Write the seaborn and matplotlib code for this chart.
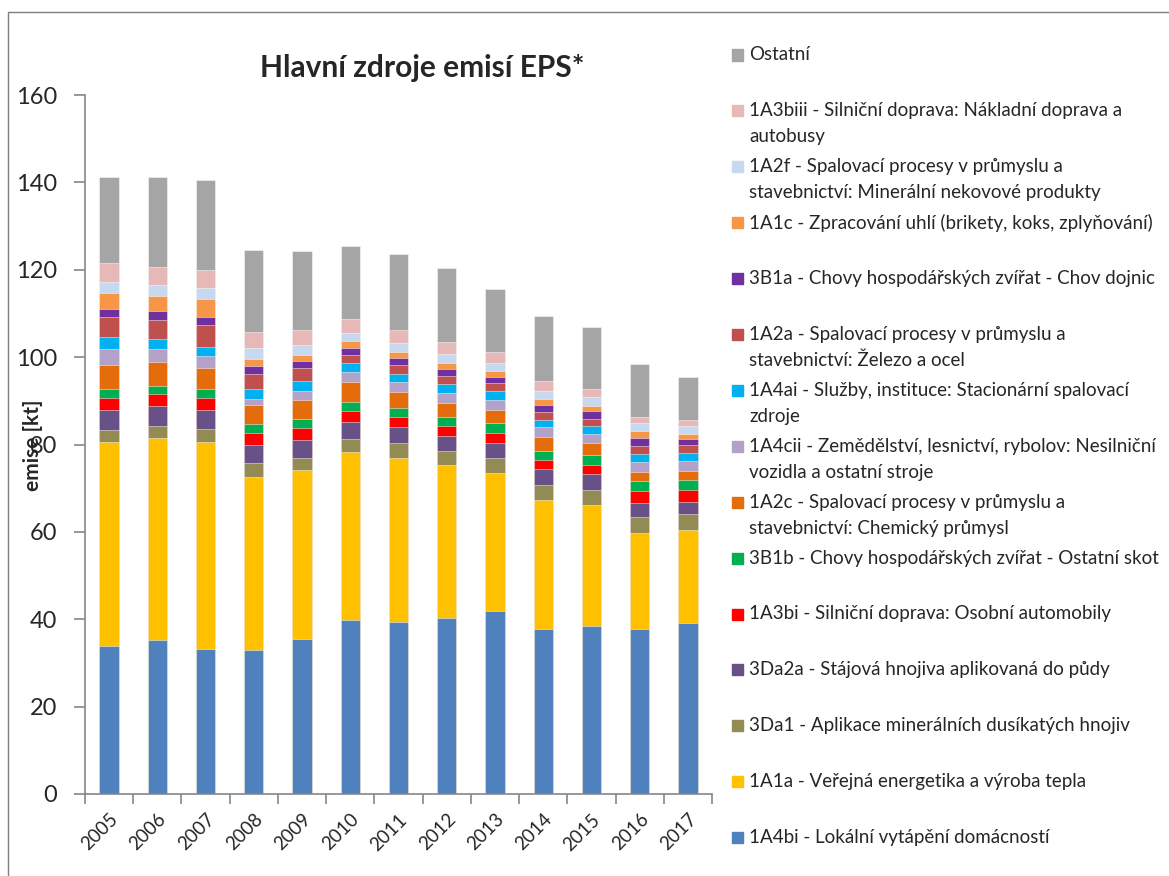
import numpy as np
import pandas as pd
import seaborn as sns
import matplotlib.pyplot as plt
from matplotlib.patches import Rectangle
from matplotlib.ticker import FixedLocator

# Data (kt)
years = [str(y) for y in range(2005, 2018)]

s_1A4bi = [33.9, 35.3, 33.3, 33.0, 35.5, 39.8, 39.4, 40.4, 41.8, 37.7, 38.5, 37.7, 39.2]
s_1A1a = [46.7, 46.1, 47.2, 39.5, 38.6, 38.4, 37.6, 34.8, 31.6, 29.6, 27.6, 22.0, 21.2]
s_3Da1 = [2.7, 2.8, 3.0, 3.2, 2.9, 3.1, 3.3, 3.3, 3.4, 3.5, 3.5, 3.8, 3.8]
s_3Da2a = [4.7, 4.7, 4.5, 4.3, 4.1, 3.8, 3.6, 3.5, 3.6, 3.5, 3.6, 3.1, 2.7]
s_1A3bi = [2.7, 2.7, 2.7, 2.7, 2.7, 2.5, 2.3, 2.2, 2.2, 2.1, 2.0, 2.7, 2.7]
s_3B1b = [2.0, 1.9, 2.1, 2.1, 2.0, 2.2, 2.2, 2.2, 2.3, 2.2, 2.3, 2.3, 2.2]
s_1A2c = [5.6, 5.4, 4.8, 4.3, 4.3, 4.5, 3.7, 3.2, 3.1, 3.1, 2.9, 2.2, 2.2]
s_1A4cii = [3.6, 2.9, 2.7, 1.4, 2.2, 2.2, 2.2, 2.2, 2.2, 2.2, 2.1, 2.1, 2.2]
s_1A4ai = [2.6, 2.4, 2.1, 2.3, 2.2, 2.1, 1.8, 2.0, 2.1, 1.8, 1.8, 2.0, 1.8]
s_1A2a = [4.7, 4.4, 5.0, 3.4, 2.9, 1.9, 2.1, 1.8, 1.8, 1.8, 1.6, 1.8, 1.8]
s_3B1a = [1.9, 1.9, 1.7, 1.8, 1.7, 1.7, 1.6, 1.7, 1.4, 1.6, 1.7, 1.7, 1.5]
s_1A1c = [3.5, 3.6, 4.3, 1.6, 1.5, 1.4, 1.4, 1.4, 1.4, 1.4, 1.3, 1.8, 1.1]
s_1A2f = [2.6, 2.5, 2.5, 2.4, 2.1, 2.0, 2.0, 2.0, 1.8, 1.8, 2.0, 1.8, 1.8]
s_1A3biii = [4.3, 4.1, 4.0, 3.7, 3.4, 3.2, 3.0, 2.7, 2.4, 2.3, 1.8, 1.4, 1.4]
s_ostatni = [19.7, 20.6, 20.7, 18.9, 18.2, 16.7, 17.3, 17.1, 14.6, 14.7, 14.3, 12.1, 9.9]

# bottom -> top stacking order
labels = [
    "1A4bi - Lokální vytápění domácností",
    "1A1a - Veřejná energetika a výroba tepla",
    "3Da1 - Aplikace minerálních dusíkatých hnojiv",
    "3Da2a - Stájová hnojiva aplikovaná do půdy",
    "1A3bi - Silniční doprava: Osobní automobily",
    "3B1b - Chovy hospodářských zvířat - Ostatní skot",
    "1A2c - Spalovací procesy v průmyslu a\nstavebnictví: Chemický průmysl",
    "1A4cii - Zemědělství, lesnictví, rybolov: Nesilniční\nvozidla a ostatní stroje",
    "1A4ai - Služby, instituce: Stacionární spalovací\nzdroje",
    "1A2a - Spalovací procesy v průmyslu a\nstavebnictví: Železo a ocel",
    "3B1a - Chovy hospodářských zvířat - Chov dojnic",
    "1A1c - Zpracování uhlí (brikety, koks, zplyňování)",
    "1A2f - Spalovací procesy v průmyslu a\nstavebnictví: Minerální nekovové produkty",
    "1A3biii - Silniční doprava: Nákladní doprava a\nautobusy",
    "Ostatní",
]
series = [s_1A4bi, s_1A1a, s_3Da1, s_3Da2a, s_1A3bi, s_3B1b, s_1A2c, s_1A4cii,
          s_1A4ai, s_1A2a, s_3B1a, s_1A1c, s_1A2f, s_1A3biii, s_ostatni]
colors = ['#4F81BD', '#FFC000', '#948A54', '#675186', '#FF0000', '#00B050',
          '#E46C0A', '#B3A2C7', '#00B0F0', '#C0504D', '#7030A0', '#F79646',
          '#C6D9F1', '#E6B9B8', '#A5A5A5']

df = pd.DataFrame(dict(zip(labels, series)), index=years)
cum = df.cumsum(axis=1)

sns.set_style('white')
plt.rcParams['font.family'] = ['Lato', 'DejaVu Sans']

fig = plt.figure(figsize=(11.69, 8.76), dpi=100)
ax = fig.add_axes([85 / 1169, 1 - 794 / 876, (712 - 85) / 1169, (794 - 95) / 876])

# draw cumulative totals from the top layer down so lower layers cover
for lab, col in zip(labels[::-1], colors[::-1]):
    sns.barplot(x=years, y=cum[lab].values, color=col, saturation=1, width=0.4,
                errorbar=None, edgecolor=(1, 1, 1, 0.55), linewidth=0.6, ax=ax)

grey = '#868686'
ax.set_ylim(0, 160)
ax.set_xlim(-0.5, 12.5)
ax.set_yticks(range(0, 161, 20))
ax.tick_params(axis='y', direction='out', length=8, width=1.2, color=grey,
               labelsize=17, pad=12, left=True)
ax.set_xticks(range(len(years)))
ax.set_xticklabels(years, rotation=45, ha='right', rotation_mode='anchor', fontsize=13.5)
ax.tick_params(axis='x', which='major', length=0, pad=12)
ax.xaxis.set_minor_locator(FixedLocator(np.arange(-0.5, 13, 1)))
ax.tick_params(axis='x', which='minor', direction='out', length=7, width=1.2,
               color=grey, bottom=True)
for side in ['top', 'right']:
    ax.spines[side].set_visible(False)
for side in ['left', 'bottom']:
    ax.spines[side].set_color(grey)
    ax.spines[side].set_linewidth(1.2)
ax.set_xlabel('')
ax.set_ylabel('')

fig.text(33 / 1169, 1 - 445 / 876, 'emise [kt]', rotation=90, fontsize=15,
         fontweight='bold', ha='center', va='center')
fig.text(422 / 1169, 1 - 68 / 876, 'Hlavní zdroje emisí EPS*', fontsize=21.5,
         fontweight='bold', ha='center', va='center')

# legend: top entry is the top of the stack
W, H = 1169, 876
for i, (lab, col) in enumerate(zip(labels[::-1], colors[::-1])):
    yc = 55 + i * 55.9
    fig.patches.append(Rectangle((732 / W, 1 - (yc + 5.5) / H), 11 / W, 11 / H,
                                 transform=fig.transFigure, color=col))
    for j, line in enumerate(lab.split('\n')):
        fig.text(749 / W, 1 - (yc + 26 * j) / H, line, fontsize=13.5,
                 ha='left', va='center')

# outer chart border
fig.patches.append(Rectangle((8 / W, -0.05), 1.2, 1.05 - 12 / H,
                             transform=fig.transFigure, fill=False,
                             edgecolor='#7f7f7f', linewidth=1))

fig.savefig('out.png', dpi=100)
